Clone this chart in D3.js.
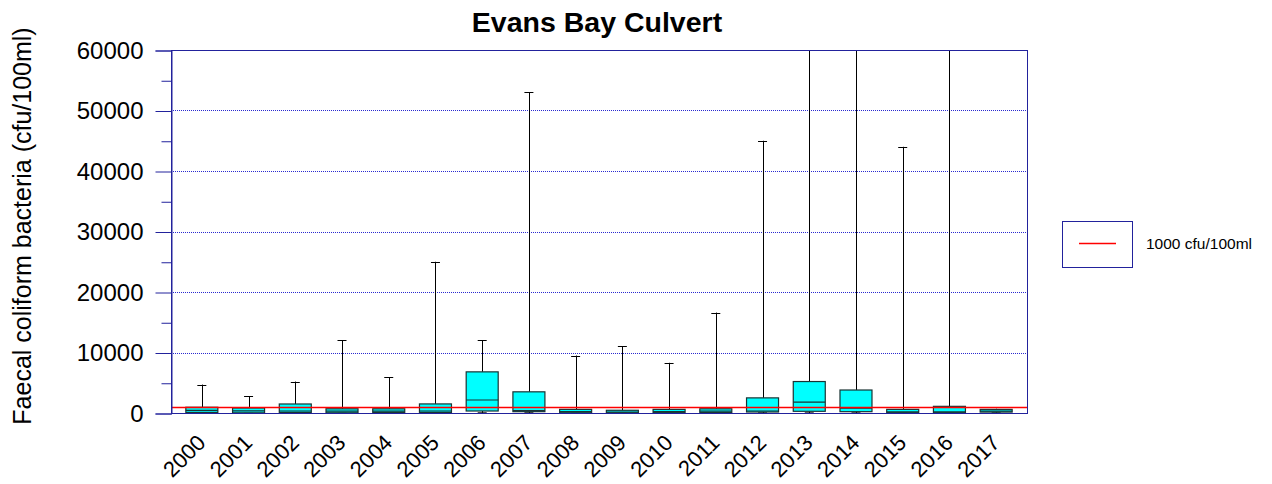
<!DOCTYPE html>
<html>
<head>
<meta charset="utf-8">
<script src="https://cdn.jsdelivr.net/npm/d3@7"></script>
<style>
  html, body { margin: 0; padding: 0; background: #fff; }
  svg { display: block; font-family: "Liberation Sans", Arial, sans-serif; }
</style>
</head>
<body>
<svg id="chart" width="1272" height="484"></svg>
<script>
// Annual faecal coliform summaries, Evans Bay Culvert (cfu/100ml)
const years = ["2000","2001","2002","2003","2004","2005","2006","2007","2008",
               "2009","2010","2011","2012","2013","2014","2015","2016","2017"];
const maxValues    = [4700, 2800, 5200, 12000, 5900, 25000, 12000, 53000, 9500,
                      11000, 8300, 16600, 45000, 78000, 66000, 44000, 92000, 700];
const q3Values     = [950, 830, 1490, 700, 700, 1500, 6800, 3500, 600,
                      450, 600, 700, 2500, 5200, 3800, 600, 1100, 600];
const medianValues = [450, 350, 330, 300, 300, 330, 2150, 400, 250,
                      150, 250, 300, 330, 1800, 800, 200, 200, 300];
const q1Values     = [100, 30, 100, 40, 100, 100, 330, 220, 50,
                      30, 60, 80, 165, 280, 220, 50, 50, 150];
const minValues    = [20, 10, 20, 10, 20, 20, 30, 30, 10,
                      10, 10, 20, 20, 20, 20, 10, 10, 30];
const yMajorTicks  = [0, 10000, 20000, 30000, 40000, 50000, 60000];
const yMinorTicks  = [5000, 15000, 25000, 35000, 45000, 55000];
const gridValues   = [10000, 20000, 30000, 40000, 50000];
const guideline    = 1000;
const guideLabel   = "1000 cfu/100ml";

const rows = years.map((yr, i) => ({
  year: yr, min: minValues[i], q1: q1Values[i], median: medianValues[i],
  q3: q3Values[i], max: maxValues[i]
}));

const svg = d3.select("#chart");
const plotL = 171, plotR = 1027, plotT = 50, plotB = 413;
const frameColor = "#22229c";
const guideColor = "#ff0000";

const x = d3.scalePoint().domain(years).range([plotL, plotR]).padding(0.66);
const y = d3.scaleLinear().domain([0, 60000]).range([plotB, plotT]);
const boxW = 32, capW = 9;
const px = v => Math.round(v) + 0.5;

svg.append("defs").append("clipPath").attr("id", "plotClip")
  .append("rect").attr("x", plotL).attr("y", plotT)
  .attr("width", plotR - plotL).attr("height", plotB - plotT);

// Title
svg.append("text")
  .attr("x", (plotL + plotR) / 2 - 2).attr("y", 32)
  .attr("text-anchor", "middle")
  .attr("font-size", 28.5).attr("font-weight", "bold")
  .text("Evans Bay Culvert");

// Y axis title
svg.append("text")
  .attr("transform", "translate(31,226) rotate(-90)")
  .attr("text-anchor", "middle")
  .attr("font-size", 25)
  .text("Faecal coliform bacteria (cfu/100ml)");

// Dotted grid lines
svg.append("g").selectAll("line").data(gridValues).join("line")
  .attr("x1", plotL).attr("x2", plotR)
  .attr("y1", d => px(y(d))).attr("y2", d => px(y(d)))
  .attr("stroke", "#2a2ad0").attr("stroke-width", 1)
  .attr("shape-rendering", "crispEdges")
  .attr("stroke-dasharray", "1,1");

// Boxes and whiskers
const plot = svg.append("g").attr("clip-path", "url(#plotClip)");
const g = plot.selectAll("g.box").data(rows).join("g").attr("class", "box");

g.append("line") // upper whisker
  .attr("x1", d => px(x(d.year))).attr("x2", d => px(x(d.year)))
  .attr("y1", d => y(d.q3)).attr("y2", d => y(d.max))
  .attr("stroke", "#000");
g.append("line") // upper cap
  .attr("x1", d => x(d.year) - capW / 2).attr("x2", d => x(d.year) + capW / 2)
  .attr("y1", d => px(y(d.max))).attr("y2", d => px(y(d.max)))
  .attr("stroke", "#000");
g.append("line") // lower whisker
  .attr("x1", d => px(x(d.year))).attr("x2", d => px(x(d.year)))
  .attr("y1", d => y(d.q1)).attr("y2", d => y(d.min))
  .attr("stroke", "#000");
g.append("line") // lower cap
  .attr("x1", d => x(d.year) - capW / 2).attr("x2", d => x(d.year) + capW / 2)
  .attr("y1", d => y(d.min)).attr("y2", d => y(d.min))
  .attr("stroke", "#000");
g.append("rect")
  .attr("x", d => x(d.year) - boxW / 2)
  .attr("y", d => y(d.q3))
  .attr("width", boxW)
  .attr("height", d => y(d.q1) - y(d.q3))
  .attr("fill", "#00ffff")
  .attr("stroke", "#1a3333").attr("stroke-width", 1.2);
g.append("line") // median
  .attr("x1", d => x(d.year) - boxW / 2).attr("x2", d => x(d.year) + boxW / 2)
  .attr("y1", d => y(d.median)).attr("y2", d => y(d.median))
  .attr("stroke", "#1a3333").attr("stroke-width", 1.2);

// Guideline drawn over the boxes
svg.append("rect")
  .attr("x", plotL).attr("width", plotR - plotL)
  .attr("y", Math.round(y(guideline)) - 0.25).attr("height", 1.5)
  .attr("fill", guideColor);

// Plot frame
svg.append("rect")
  .attr("x", plotL + 0.5).attr("y", plotT + 0.5)
  .attr("width", plotR - plotL).attr("height", plotB - plotT)
  .attr("fill", "none").attr("stroke", frameColor).attr("stroke-width", 1);

// Y axis: major ticks with labels, minor ticks without
const yAxis = svg.append("g").attr("transform", `translate(${plotL + 0.5},0.5)`)
  .call(d3.axisLeft(y).tickValues(yMajorTicks).tickSize(16).tickPadding(12)
        .tickFormat(d3.format("d")));
yAxis.select(".domain").attr("stroke", frameColor);
yAxis.selectAll(".tick line").attr("stroke", frameColor);
yAxis.selectAll(".tick text").attr("font-size", 24).attr("fill", "#000")
  .attr("font-family", "Liberation Sans, Arial, sans-serif");

const yMinor = svg.append("g").attr("transform", `translate(${plotL + 0.5},0.5)`)
  .call(d3.axisLeft(y).tickValues(yMinorTicks).tickSize(10).tickFormat(""));
yMinor.select(".domain").remove();
yMinor.selectAll(".tick line").attr("stroke", frameColor);

// X axis labels, rotated
svg.append("g").selectAll("text").data(years).join("text")
  .attr("transform", d => `translate(${x(d) + 5},444) rotate(-45)`)
  .attr("text-anchor", "end")
  .attr("font-size", 22)
  .text(d => d);

// Legend
const lg = svg.append("g");
lg.append("rect").attr("x", 1062.5).attr("y", 221.5).attr("width", 70).attr("height", 46)
  .attr("fill", "none").attr("stroke", frameColor);
lg.append("rect").attr("x", 1079).attr("width", 37).attr("y", 242.75).attr("height", 1.5)
  .attr("fill", guideColor);
lg.append("text").attr("x", 1146).attr("y", 249).attr("font-size", 15.5).text(guideLabel);
</script>
</body>
</html>
